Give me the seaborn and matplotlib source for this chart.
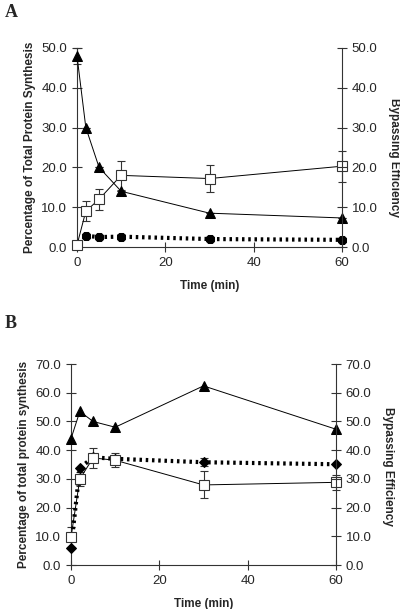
import matplotlib
matplotlib.use("Agg")
import matplotlib.pyplot as plt
import seaborn as sns
import pandas as pd
import numpy as np

sns.set_style("ticks")
plt.rcParams['font.family'] = ['Liberation Sans', 'DejaVu Sans']

time = [0, 2, 5, 10, 30, 60]

# Panel A
a_tri = [48.0, 30.0, 20.0, 14.0, 8.5, 7.3]
a_tri_err = [2.0, 0, 0, 0, 0, 0]
a_sq = [0.5, 9.0, 12.0, 18.0, 17.2, 20.3]
a_sq_err = [0, 2.5, 2.6, 3.6, 3.4, 3.9]
a_dot_t = [2, 5, 10, 30, 60]
a_dot = [2.8, 2.5, 2.6, 2.0, 1.8]

# Panel B
b_tri = [44.0, 53.5, 50.0, 48.0, 62.4, 47.3]
b_sq = [9.7, 30.0, 37.3, 36.5, 27.9, 28.8]
b_sq_err = [3.5, 2.5, 3.5, 2.5, 4.7, 2.5]
b_dot = [6.0, 33.8, 37.5, 37.0, 35.8, 35.1]
b_dot_err = [0, 0, 0, 0, 1.4, 0]

fig = plt.figure(figsize=(4.0, 6.09), dpi=100)


def panel(rect, tri, tri_err, sq, sq_err, dot_t, dot, dot_err, dmark, dsize, ymax, step,
          ylabel, letter, letter_y, r_label_x, r_label_y):
    ax = fig.add_axes(rect)
    df_tri = pd.DataFrame({"t": time, "v": tri})
    df_sq = pd.DataFrame({"t": time, "v": sq})
    df_dot = pd.DataFrame({"t": dot_t, "v": dot})
    sns.lineplot(data=df_dot, x="t", y="v", ax=ax, color="black", lw=3.0,
                 linestyle=(0, (0.6, 0.9)), marker=dmark, markersize=dsize,
                 markeredgecolor="black", markerfacecolor="black", clip_on=False, zorder=3)
    sns.lineplot(data=df_sq, x="t", y="v", ax=ax, color="black", lw=0.7,
                 marker="s", markersize=7, markerfacecolor="white",
                 markeredgecolor="#333333", markeredgewidth=0.8, clip_on=False, zorder=5)
    sns.lineplot(data=df_tri, x="t", y="v", ax=ax, color="black", lw=0.7,
                 marker="^", markersize=6.5, markerfacecolor="black",
                 markeredgecolor="black", clip_on=False, zorder=4)
    ax.errorbar(time, sq, yerr=sq_err, fmt="none", ecolor="#333333", elinewidth=0.8,
                capsize=2.6, capthick=0.8, zorder=2, clip_on=False)
    if any(tri_err):
        ax.errorbar(time, tri, yerr=tri_err, fmt="none", ecolor="#333333", elinewidth=0.8,
                    capsize=2.6, capthick=0.8, zorder=2, clip_on=False)
    if any(dot_err):
        ax.errorbar(dot_t, dot, yerr=dot_err, fmt="none", ecolor="#333333", elinewidth=0.8,
                    capsize=2.6, capthick=0.8, zorder=2, clip_on=False)
    ax.set_xlim(0, 60)
    ax.set_ylim(0, ymax)
    ticks = np.arange(0, ymax + 0.1, step)
    ax.set_yticks(ticks)
    ax.set_yticklabels([f"{t:.1f}" for t in ticks], fontsize=9.5)
    ax.set_xticks([0, 20, 40, 60])
    ax.set_xticklabels(["0", "20", "40", "60"], fontsize=9.5)
    ax.tick_params(axis="both", direction="inout", length=7, width=0.8, color="#333333")
    ax.spines["top"].set_visible(False)
    ax.spines["right"].set_visible(False)
    for s in ("left", "bottom"):
        ax.spines[s].set_linewidth(0.8)
        ax.spines[s].set_color("#333333")
    ax.set_xlabel("Time (min)", fontsize=8.5, fontweight="bold", labelpad=8)
    ax.set_ylabel(ylabel, fontsize=8.5, fontweight="bold", labelpad=4)

    ax2 = ax.twinx()
    ax2.set_ylim(0, ymax)
    ax2.set_yticks(ticks)
    ax2.set_yticklabels([f"{t:.1f}" for t in ticks], fontsize=9.5)
    ax2.tick_params(axis="y", direction="inout", length=7, width=0.8, color="#333333")
    for s in ("top", "left", "bottom"):
        ax2.spines[s].set_visible(False)
    ax2.spines["right"].set_linewidth(0.8)
    ax2.spines["right"].set_color("#333333")
    ax2.set_ylabel("Bypassing Efficiency", fontsize=8.5, fontweight="bold",
                   rotation=270, va="center", ha="center")
    ax2.yaxis.set_label_coords(r_label_x, r_label_y)
    fig.text(0.012, letter_y, letter, fontsize=13, fontweight="bold",
             family=["Liberation Serif", "DejaVu Serif"], va="top")
    return ax


panel([0.1925, 0.5944, 0.6625, 0.3268], a_tri, a_tri_err, a_sq, a_sq_err,
      a_dot_t, a_dot, [0] * 5, "8", 6, 50, 10,
      "Percentage of Total Protein Synthesis", "A", 0.993, 1.195, 0.45)
panel([0.1775, 0.0722, 0.6625, 0.330], b_tri, [0] * 6, b_sq, b_sq_err,
      time, b_dot, b_dot_err, "D", 5, 70, 10,
      "Percentage of total protein synthesis", "B", 0.482, 1.195, 0.49)

fig.savefig("out.png", dpi=100)
